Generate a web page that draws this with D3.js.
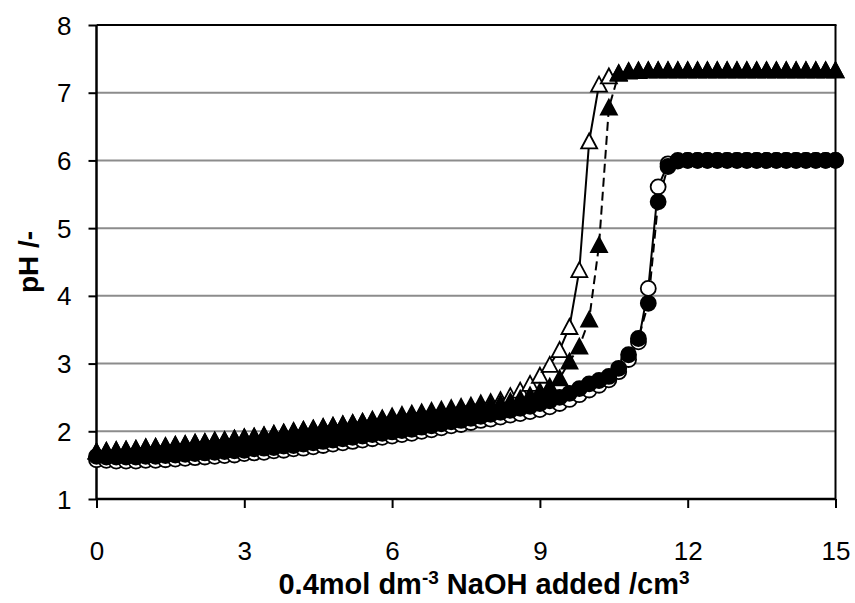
<!DOCTYPE html>
<html><head><meta charset="utf-8">
<script src="https://cdn.jsdelivr.net/npm/d3@7"></script>
<style>body{margin:0;background:#fff}svg{display:block}</style>
</head><body>
<svg id="c" width="855" height="603"></svg>
<script>
const xValues = [0.0,0.2,0.4,0.6,0.8,1.0,1.2,1.4,1.6,1.8,2.0,2.2,2.4,2.6,2.8,3.0,3.2,3.4,3.6,3.8,4.0,4.2,4.4,4.6,4.8,5.0,5.2,5.4,5.6,5.8,6.0,6.2,6.4,6.6,6.8,7.0,7.2,7.4,7.6,7.8,8.0,8.2,8.4,8.6,8.8,9.0,9.2,9.4,9.6,9.8,10.0,10.2,10.4,10.6,10.8,11.0,11.2,11.4,11.6,11.8,12.0,12.2,12.4,12.6,12.8,13.0,13.2,13.4,13.6,13.8,14.0,14.2,14.4,14.6,14.8,15.0];
// open circles (solid line)
const openCircle = [1.58,1.57,1.56,1.56,1.56,1.57,1.57,1.58,1.59,1.60,1.61,1.62,1.63,1.64,1.65,1.67,1.68,1.69,1.71,1.72,1.74,1.75,1.77,1.79,1.81,1.83,1.85,1.87,1.89,1.91,1.93,1.95,1.97,2.00,2.02,2.05,2.08,2.10,2.13,2.16,2.18,2.21,2.24,2.26,2.29,2.32,2.36,2.41,2.47,2.54,2.61,2.68,2.76,2.88,3.06,3.32,4.11,5.61,5.95,6.00,6.00,6.00,6.00,6.00,6.00,6.00,6.00,6.00,6.00,6.00,6.00,6.00,6.00,6.00,6.00,6.00];
// filled circles (dashed line)
const filledCircle = [1.63,1.62,1.62,1.62,1.62,1.63,1.63,1.64,1.65,1.66,1.67,1.68,1.69,1.70,1.71,1.72,1.74,1.75,1.76,1.78,1.79,1.81,1.83,1.85,1.87,1.89,1.91,1.93,1.95,1.97,1.99,2.01,2.03,2.06,2.08,2.11,2.14,2.16,2.19,2.22,2.25,2.28,2.31,2.34,2.37,2.41,2.45,2.50,2.56,2.63,2.70,2.75,2.81,2.93,3.13,3.37,3.89,5.39,5.91,5.99,6.00,6.00,6.00,6.00,6.00,6.00,6.00,6.00,6.00,6.00,6.00,6.00,6.00,6.00,6.00,6.00];
// open triangles (solid line)
const openTriangle = [1.70,1.71,1.72,1.73,1.74,1.76,1.77,1.78,1.80,1.81,1.83,1.84,1.86,1.87,1.89,1.91,1.92,1.94,1.96,1.98,2.00,2.02,2.04,2.06,2.08,2.10,2.12,2.14,2.17,2.19,2.22,2.24,2.26,2.28,2.30,2.32,2.34,2.36,2.38,2.41,2.43,2.46,2.52,2.60,2.70,2.82,2.98,3.20,3.54,4.38,6.28,7.12,7.24,7.29,7.31,7.32,7.33,7.33,7.33,7.33,7.33,7.33,7.33,7.33,7.33,7.33,7.33,7.33,7.33,7.33,7.33,7.33,7.33,7.33,7.33,7.33];
// filled triangles (dashed line)
const filledTriangle = [1.70,1.71,1.72,1.73,1.74,1.76,1.77,1.78,1.80,1.81,1.83,1.84,1.86,1.87,1.89,1.91,1.92,1.94,1.96,1.98,2.00,2.02,2.04,2.06,2.08,2.10,2.12,2.14,2.16,2.18,2.20,2.22,2.24,2.26,2.28,2.29,2.31,2.33,2.35,2.37,2.39,2.41,2.44,2.48,2.53,2.59,2.66,2.78,3.03,3.25,3.65,4.75,6.78,7.28,7.32,7.33,7.33,7.33,7.33,7.33,7.33,7.33,7.33,7.33,7.33,7.33,7.33,7.33,7.33,7.33,7.33,7.33,7.33,7.33,7.33,7.33];
const xTicks = [0,3,6,9,12,15];
const yTicks = [1,2,3,4,5,6,7,8];

const svg = d3.select("#c");
const x = d3.scaleLinear().domain([0,15]).range([96.5,835.5]);
const y = d3.scaleLinear().domain([1,8]).range([499,25]);

svg.append("g").selectAll("line").data(yTicks.filter(v=>v>1&&v<8)).join("line")
  .attr("x1",x(0)).attr("x2",x(15)).attr("y1",d=>y(d)).attr("y2",d=>y(d))
  .attr("stroke","#8c8c8c").attr("stroke-width",2);
svg.append("line").attr("x1",x(0)).attr("x2",x(15)+1).attr("y1",y(8)).attr("y2",y(8)).attr("stroke","#000").attr("stroke-width",2);
svg.append("line").attr("x1",x(15)).attr("x2",x(15)).attr("y1",y(8)).attr("y2",y(1)).attr("stroke","#000").attr("stroke-width",2);

const font = "'Liberation Sans', Arial, sans-serif";
const gx = svg.append("g").attr("transform",`translate(0,${y(1)})`)
  .call(d3.axisBottom(x).tickValues(xTicks).tickSize(9).tickPadding(35).tickFormat(d3.format("d")));
const gy = svg.append("g").attr("transform",`translate(${x(0)},0)`)
  .call(d3.axisLeft(y).tickValues(yTicks).tickSize(8).tickPadding(17).tickFormat(d3.format("d")));
[gx,gy].forEach(g=>{
  g.select(".domain").attr("stroke","#000").attr("stroke-width",2.5);
  g.selectAll(".tick line").attr("stroke","#000").attr("stroke-width",2);
  g.selectAll("text").attr("font-family",font).attr("font-size",26).attr("fill","#000");
});
gx.select(".domain").attr("d",`M${x(0)},0H${x(15)}`);
gy.select(".domain").attr("d",`M0,${y(1)}V${y(8)}`);
gx.selectAll(".tick text").attr("dy","0.35em").attr("y",52);
gy.selectAll(".tick text").attr("dy","0.35em");

const series = [
  {vals: openCircle, shape:"circle", fill:"#fff", dash:null},
  {vals: filledCircle, shape:"circle", fill:"#000", dash:"9,5"},
  {vals: openTriangle, shape:"triangle", fill:"#fff", dash:null},
  {vals: filledTriangle, shape:"triangle", fill:"#000", dash:"9,5"}
];
const line = d3.line().x(d=>x(d[0])).y(d=>y(d[1]));
series.forEach(s=>{
  const pts = xValues.map((xv,i)=>[xv,s.vals[i]]);
  svg.append("path").attr("d",line(pts)).attr("fill","none").attr("stroke","#000")
    .attr("stroke-width",2).attr("stroke-dasharray",s.dash);
});
series.forEach(s=>{
  const pts = xValues.map((xv,i)=>[xv,s.vals[i]]);
  const g = svg.append("g");
  if(s.shape==="circle"){
    g.selectAll("circle").data(pts).join("circle").attr("cx",d=>x(d[0])).attr("cy",d=>y(d[1]))
      .attr("r",7.5).attr("fill",s.fill).attr("stroke","#000").attr("stroke-width",1.8);
  } else {
    g.selectAll("path").data(pts).join("path")
      .attr("d",d=>{const cx=x(d[0]),cy=y(d[1]);return `M${cx},${cy-8}L${cx+8},${cy+7}L${cx-8},${cy+7}Z`;})
      .attr("fill",s.fill).attr("stroke","#000").attr("stroke-width",1.8).attr("stroke-linejoin","miter");
  }
});

const xt = svg.append("text").attr("x",484).attr("y",594).attr("text-anchor","middle")
  .attr("font-family",font).attr("font-size",29).attr("font-weight","bold");
xt.append("tspan").text("0.4mol dm");
xt.append("tspan").attr("dy",-10).attr("font-size",19).text("-3");
xt.append("tspan").attr("dy",10).text(" NaOH added /cm");
xt.append("tspan").attr("dy",-10).attr("font-size",19).text("3");
svg.append("text").attr("transform","translate(38,262) rotate(-90)").attr("text-anchor","middle")
  .attr("font-family",font).attr("font-size",28).attr("font-weight","bold").text("pH /-");
</script>
</body></html>
